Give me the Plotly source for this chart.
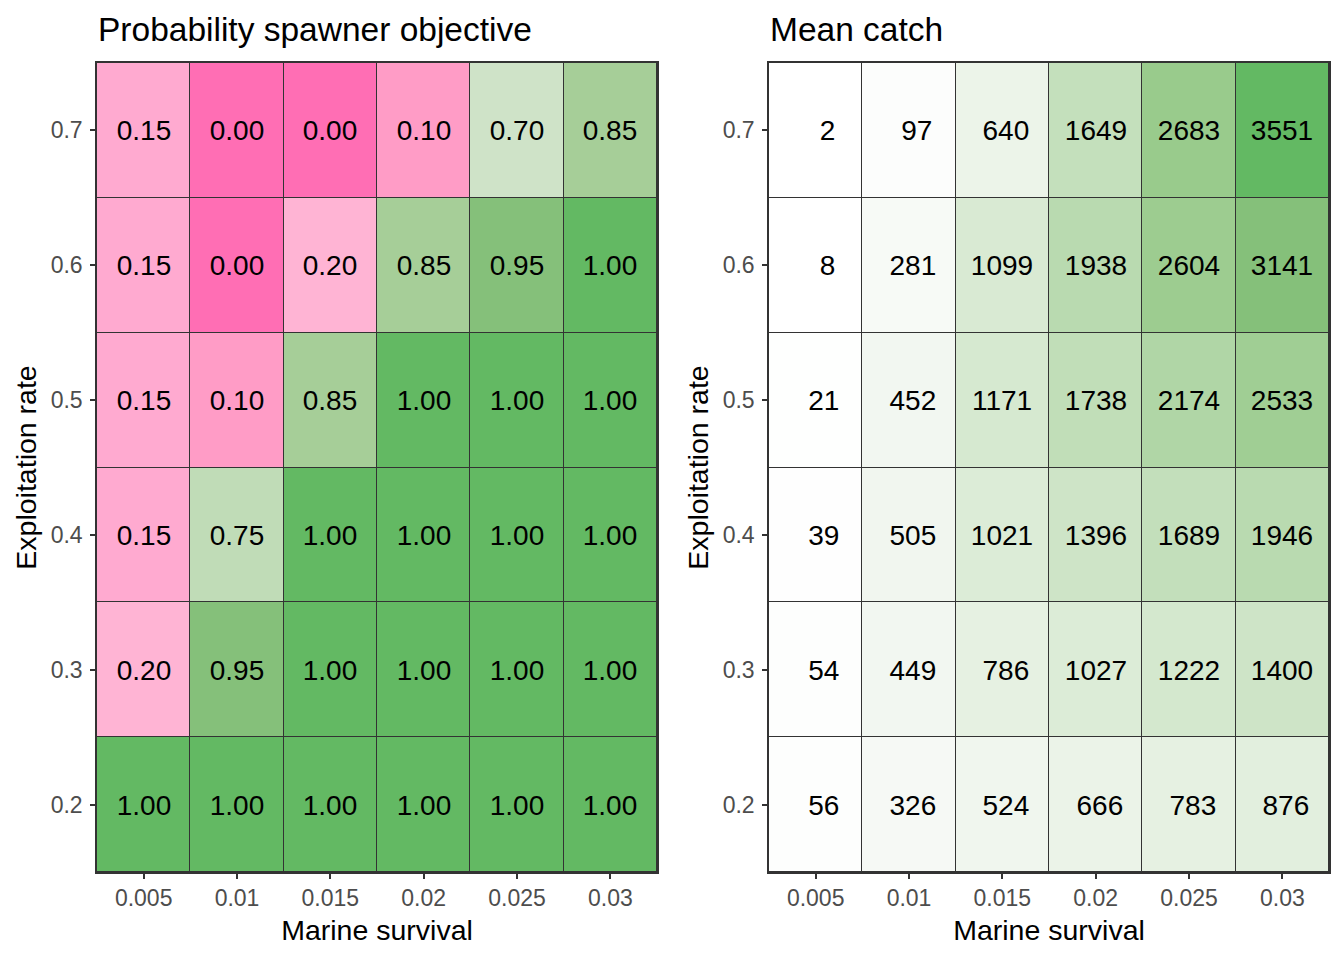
import plotly.graph_objects as go

# axes: marine survival (columns), exploitation rate (rows, bottom -> top)
marine_survival = ["0.005", "0.01", "0.015", "0.02", "0.025", "0.03"]
exploitation = ["0.2", "0.3", "0.4", "0.5", "0.6", "0.7"]

# probability of meeting spawner objective
prob_02 = [1.00, 1.00, 1.00, 1.00, 1.00, 1.00]
prob_03 = [0.20, 0.95, 1.00, 1.00, 1.00, 1.00]
prob_04 = [0.15, 0.75, 1.00, 1.00, 1.00, 1.00]
prob_05 = [0.15, 0.10, 0.85, 1.00, 1.00, 1.00]
prob_06 = [0.15, 0.00, 0.20, 0.85, 0.95, 1.00]
prob_07 = [0.15, 0.00, 0.00, 0.10, 0.70, 0.85]

# mean catch
catch_02 = [56, 326, 524, 666, 783, 876]
catch_03 = [54, 449, 786, 1027, 1222, 1400]
catch_04 = [39, 505, 1021, 1396, 1689, 1946]
catch_05 = [21, 452, 1171, 1738, 2174, 2533]
catch_06 = [8, 281, 1099, 1938, 2604, 3141]
catch_07 = [2, 97, 640, 1649, 2683, 3551]

prob = [prob_02, prob_03, prob_04, prob_05, prob_06, prob_07]
catch = [catch_02, catch_03, catch_04, catch_05, catch_06, catch_07]

# labels like R's format(): padded to a common width
width = max(len(str(v)) for row in catch for v in row)
catch_txt = [["\u00a0" * (width - len(str(v))) + str(v) for v in row] for row in catch]

FONT = "Liberation Sans, Arial, sans-serif"
GRID = "#333333"

# page has an 8px body margin, so work in window pixels minus 8
W, H, OFF = 1336, 952, 8
def px(v):
    return (v - OFF) / W
def py(v):
    return 1 - (v - OFF) / H

pink_green = [
    [0.00, "#FF6EB4"], [0.10, "#FF9CC6"], [0.15, "#FFAAD0"], [0.20, "#FFB4D4"],
    [0.50, "#FFFFFF"], [0.70, "#CFE3C8"], [0.75, "#C0DCB7"], [0.85, "#A6CE98"],
    [0.95, "#85C07A"], [1.00, "#63B963"],
]
white_green = [
    [0.00, "#FFFFFF"], [0.15, "#F0F6EE"], [0.31, "#D9EAD3"], [0.46, "#C5E0BD"],
    [0.61, "#B0D6A6"], [0.75, "#9ACB8D"], [0.88, "#86C07B"], [1.00, "#63B963"],
]

fig = go.Figure()

fig.add_trace(go.Heatmap(
    x=marine_survival, y=exploitation, z=prob,
    colorscale=pink_green, zmin=0, zmax=1, showscale=False,
    texttemplate="%{z:.2f}", textfont=dict(size=28, color="black", family=FONT),
    xgap=1, ygap=1, xaxis="x", yaxis="y",
))
fig.add_trace(go.Heatmap(
    x=marine_survival, y=exploitation, z=catch, text=catch_txt,
    colorscale=white_green, zmin=0, zmax=max(max(r) for r in catch), showscale=False,
    texttemplate="%{text}", textfont=dict(size=28, color="black", family=FONT),
    xgap=1, ygap=1, xaxis="x2", yaxis="y2",
))

ax = dict(
    showline=True, mirror=True, linecolor=GRID, linewidth=1.5,
    ticks="outside", ticklen=5, tickwidth=1.5, tickcolor=GRID,
    tickfont=dict(size=23, color="#4D4D4D", family=FONT),
    showgrid=False, zeroline=False, automargin=False,
    title_font=dict(size=28.5, color="black", family=FONT),
)
xax = dict(ax, ticklabelstandoff=0, title=dict(text="Marine survival", standoff=10))
yax = dict(ax, ticklabelstandoff=3, title=dict(text="Exploitation rate", standoff=6))

fig.update_layout(
    width=W, height=H,
    margin=dict(l=0, r=0, t=0, b=0),
    paper_bgcolor="white", plot_bgcolor=GRID,
    font=dict(family=FONT),
    xaxis=dict(xax, domain=[px(97), px(657)], anchor="y"),
    yaxis=dict(yax, domain=[py(872), py(63)], anchor="x"),
    xaxis2=dict(xax, domain=[px(769), px(1329)], anchor="y2"),
    yaxis2=dict(yax, domain=[py(872), py(63)], anchor="x2"),
    annotations=[
        dict(text="Probability spawner objective", x=px(96), y=py(29),
             xref="paper", yref="paper", xanchor="left", yanchor="middle",
             showarrow=False, font=dict(size=33.5, color="black", family=FONT)),
        dict(text="Mean catch", x=px(768), y=py(29),
             xref="paper", yref="paper", xanchor="left", yanchor="middle",
             showarrow=False, font=dict(size=33.5, color="black", family=FONT)),
    ],
)

fig.write_html("out.html")
